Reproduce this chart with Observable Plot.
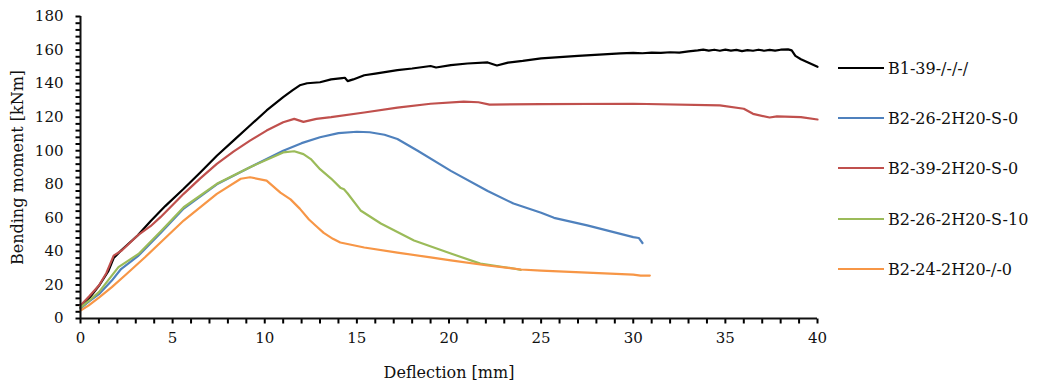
<!DOCTYPE html>
<html><head><meta charset="utf-8">
<script src="https://cdn.jsdelivr.net/npm/d3@7"></script>
<script src="https://cdn.jsdelivr.net/npm/@observablehq/plot@0.6"></script>
<style>
body{margin:0;background:#fff;font-family:"DejaVu Serif",serif}
#wrap{position:relative;width:1042px;height:386px}
#legend{position:absolute;left:838px;top:0;font-size:16px;color:#111}
.item{position:absolute;left:0;white-space:nowrap;display:flex;align-items:center}
.item span.sw{display:inline-block;width:46px;height:2.5px;margin-right:4px}
</style></head><body>
<div id="wrap"><div id="chart"></div><div id="legend"></div></div>
<script>
const seriesNames = ["B1-39-/-/-/", "B2-26-2H20-S-0", "B2-39-2H20-S-0", "B2-26-2H20-S-10", "B2-24-2H20-/-0"];
const seriesColors = ["#000000", "#4F81BD", "#C0504D", "#9BBB59", "#F79646"];

const b1X = [0,0.5,1,1.5,1.8,2.2,3.1,3.8,4.6,5.6,6.5,7.4,8.3,9.2,10.1,11,11.5,11.9,12.3,13,13.6,14.2,14.35,14.5,14.8,15.4,16,17.2,18,19,19.3,20.1,21,22.1,22.6,23.2,24,25,27,29.3,30,30.5,31,31.5,32,32.5,33,33.5,33.8,34.1,34.4,34.7,35,35.3,35.6,35.9,36.2,36.5,36.8,37.1,37.4,37.7,38,38.4,38.6,38.8,39.1,39.4,39.7,40];
const b1Y = [6.5,12.5,19.5,28,36,40.5,49.5,58,67,77.3,87,97,106,115,124,132,136,139,140.2,140.8,142.5,143.3,143.5,141.5,142.5,145,146,148,149,150.5,149.6,151,152,152.6,150.8,152.5,153.5,155,156.5,158,158.3,158.1,158.5,158.3,158.7,158.5,159.2,159.8,160.3,159.7,160.2,159.6,160.3,159.7,160.1,159.4,160,159.6,160.2,159.6,160.1,159.7,160.2,160.4,159.8,156.5,154.5,153,151.5,150];

const b2aX = [0,0.5,1,1.7,2.2,3.15,4.4,5.6,7.4,9.2,11,12,13,14,15,15.7,16.5,17.2,18.3,20.1,22.1,23.5,25,25.7,27.5,30,30.3,30.5];
const b2aY = [6,10.5,14.5,22.6,29.5,37.5,51.5,65.5,80,90.2,100,104.5,108,110.5,111.3,111,109.5,107,100,88,76,68.5,63,60,55.5,48.5,48,45];

const b2bX = [0,0.5,1,1.4,1.8,2.24,3.1,3.8,4.34,5.6,6.5,7.4,8.3,9.2,10.1,11,11.6,12.1,12.8,13.6,15.4,17.2,19,20.8,21.6,22.2,25,30,34.7,36,36.5,37.4,37.8,39.1,40];
const b2bY = [7.7,13.5,19.7,27,37.5,40.5,49.5,55,60.4,74.3,83.5,92.2,99.5,106,112,117,119,117.2,119,120,122.8,125.7,128,129.3,128.9,127.5,127.8,128,127,125,122,119.8,120.5,120,118.6];

const b2cX = [0,0.5,1,2.06,3.15,4.4,5.6,7.4,9.2,11,11.6,12.1,12.5,13,13.6,14.1,14.3,14.5,15.2,16.3,18.1,20.1,21.7,23.5,23.9];
const b2cY = [6.5,11,15.7,30.6,38.5,52.4,66.3,80.3,90.2,99,99.7,98,95,89,83.4,78,77,74.5,64.4,56.6,46.5,38.7,32.7,29.8,29];

const b2dX = [0,0.43,1,1.7,2.5,3.5,4.6,5.6,7.4,8.7,9.2,10.1,10.85,11.4,11.9,12.4,12.8,13.2,13.7,14.1,15.4,17.2,19,20.1,22.1,23.9,25,27.5,30,30.4,30.9];
const b2dY = [4.8,7.7,12.5,18.7,26.5,36.5,48,58.4,74.3,83.3,84.2,82.2,75,71,65.5,59,55,51,47.5,45.3,42.3,39.3,36.4,34.6,31.6,29.2,28.5,27.4,26.2,25.6,25.6];

const xMajorTicks = [0,5,10,15,20,25,30,35,40];
const yMajorTicks = [0,20,40,60,80,100,120,140,160,180];
const xMinorTicks = d3.range(0, 41, 1);
const yMinorTicks = d3.range(0, 181, 4);

const allX = [b1X, b2aX, b2bX, b2cX, b2dX];
const allY = [b1Y, b2aY, b2bY, b2cY, b2dY];
const rows = [];
allX.forEach((xs, i) => xs.forEach((x, j) => rows.push({series: seriesNames[i], x, y: allY[i][j]})));

// tick length of 5 px expressed in data units of each scale
const tickLenY = 5 * 180 / (386 - 16 - 68);
const tickLenX = 5 * 40 / (1042 - 80 - 225);

const chart = Plot.plot({
  width: 1042, height: 386,
  marginLeft: 80, marginRight: 225, marginTop: 16, marginBottom: 68,
  style: {fontFamily: '"DejaVu Serif", serif', fontSize: "15px", color: "#111", background: "#fff"},
  x: {domain: [0, 40], axis: null},
  y: {domain: [0, 180], axis: null},
  color: {domain: seriesNames, range: seriesColors},
  marks: [
    Plot.link(xMinorTicks, {x1: d => d, x2: d => d, y1: 0, y2: -tickLenY, stroke: "#000", strokeWidth: 2}),
    Plot.link(yMinorTicks, {y1: d => d, y2: d => d, x1: 0, x2: -tickLenX, stroke: "#000", strokeWidth: 2}),
    Plot.axisX(xMajorTicks, {tickSize: 0, tickPadding: 14, label: null, fontSize: 15}),
    Plot.axisY(yMajorTicks, {tickSize: 0, tickPadding: 17, label: null, fontSize: 15}),
    Plot.line(rows, {x: "x", y: "y", z: "series", stroke: "series", strokeWidth: 2.2}),
    Plot.ruleY([0], {stroke: "#111", strokeWidth: 2}),
    Plot.ruleX([0], {stroke: "#111", strokeWidth: 2}),
    Plot.text(["Bending moment [kNm]"], {frameAnchor: "left", dx: -63, rotate: -90, textAnchor: "middle", fontSize: 16, fill: "#111"}),
    Plot.text(["Deflection [mm]"], {frameAnchor: "bottom", dy: 54, textAnchor: "middle", lineAnchor: "middle", fontSize: 16, fill: "#111"})
  ]
});
document.getElementById("chart").appendChild(chart);

const legend = document.getElementById("legend");
const legendTops = [68, 118, 168, 219, 269];
seriesNames.forEach((name, i) => {
  const d = document.createElement("div");
  d.className = "item";
  d.style.top = (legendTops[i] - 10) + "px";
  d.style.height = "20px";
  d.innerHTML = `<span class="sw" style="background:${seriesColors[i]}"></span><span>${name}</span>`;
  legend.appendChild(d);
});
</script>
</body></html>
